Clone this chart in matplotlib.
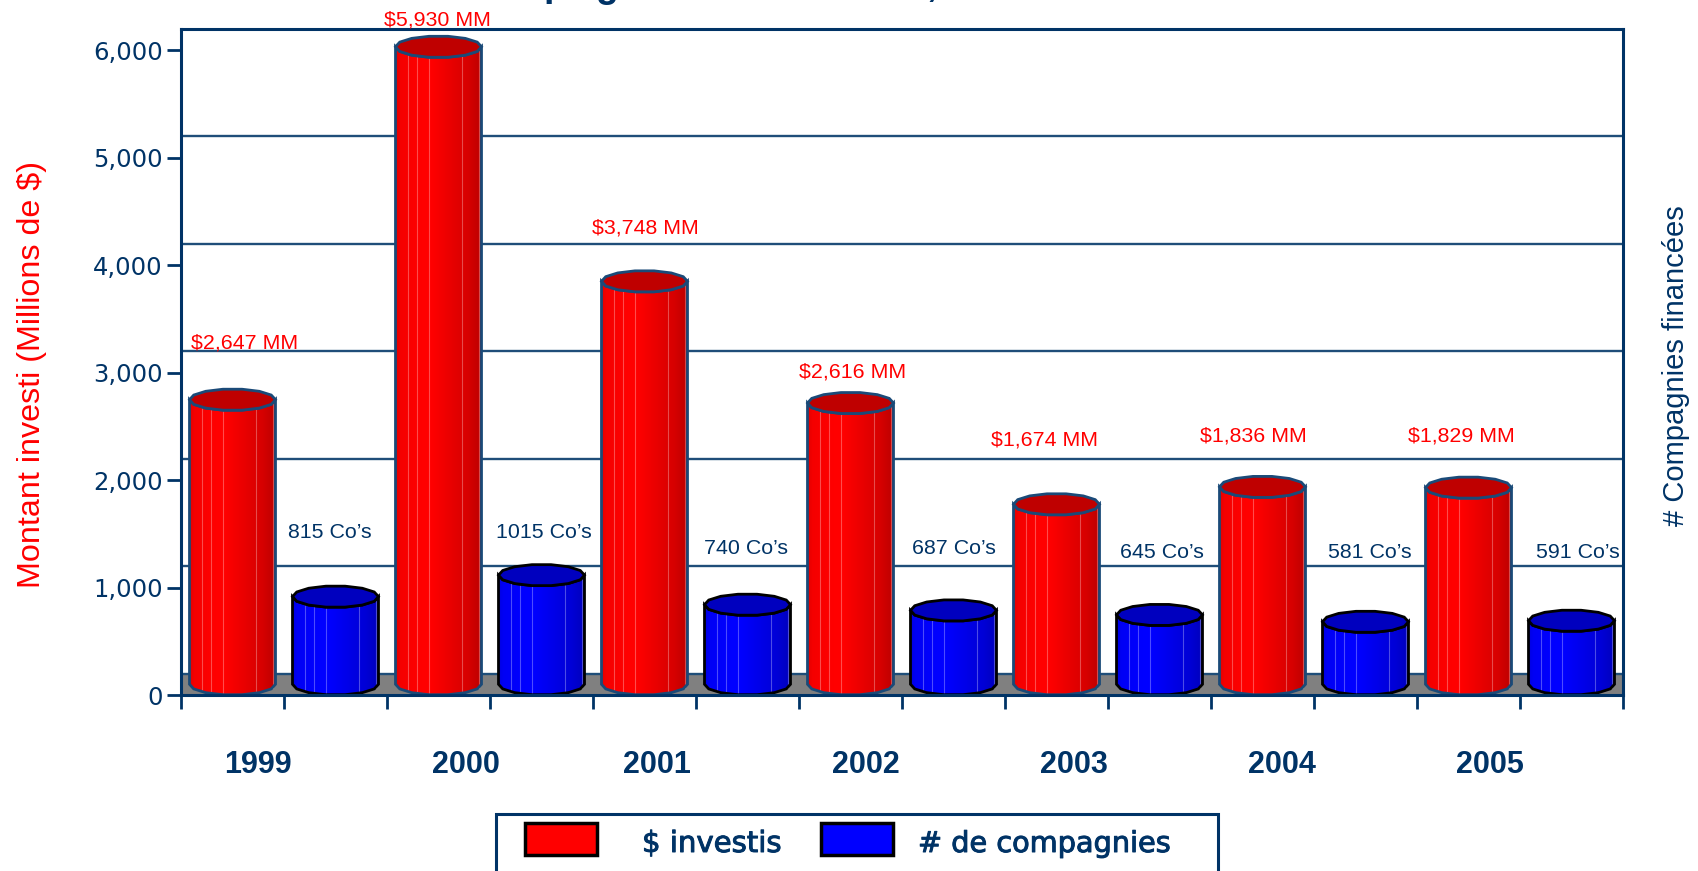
import numpy as np
import matplotlib
matplotlib.use("Agg")
import matplotlib.pyplot as plt
import matplotlib.patheffects as pe
from matplotlib.colors import LinearSegmentedColormap
from matplotlib.patches import Polygon, Rectangle

years = ["1999", "2000", "2001", "2002", "2003", "2004", "2005"]
invested = [2647, 5930, 3748, 2616, 1674, 1836, 1829]
companies = [815, 1015, 740, 687, 645, 581, 591]
invested_labels = ["$2,647 MM", "$5,930 MM", "$3,748 MM", "$2,616 MM", "$1,674 MM", "$1,836 MM", "$1,829 MM"]
company_labels = ["815 Co’s", "1015 Co’s", "740 Co’s", "687 Co’s", "645 Co’s", "581 Co’s", "591 Co’s"]
y_ticks = [0, 1000, 2000, 3000, 4000, 5000, 6000]

# hand placed label centres, in pixels of the full size picture
invested_label_xy = [(245, 343), (437, 20), (645, 228), (853, 372), (1045, 440), (1253, 436), (1461, 436)]
company_label_xy = [(330, 532), (544, 532), (746, 548), (954, 548), (1162, 553), (1370, 553), (1578, 552)]
year_label_x = [258, 466, 657, 866, 1074, 1282, 1490]

NAVY = "#003366"
W, H = 1699, 871
FONT = "Liberation Sans"

fig = plt.figure(figsize=(W / 100, H / 100), dpi=100)
ax = fig.add_axes([181 / W, 1 - 695 / H, 1442 / W, 666.5 / H])


def px(x, y):
    return x / W, 1 - y / H


def ellipse(cx, cy, w, start, stop, n):
    t = np.linspace(start, stop, n)
    return np.column_stack([cx + w / 2 * np.cos(t), cy + 100 * np.sin(t)])


def cylinder(cx, value, base, edge, lw=2.0):
    w = 0.835
    front_low = ellipse(cx, 100, w, np.pi, 2 * np.pi, 8)
    front_top = ellipse(cx, value + 100, w, 2 * np.pi, np.pi, 8)
    body = Polygon(np.vstack([front_low, front_top]), closed=True, fc="none", ec=edge, lw=lw, zorder=4)
    ax.add_patch(body)
    cmap = LinearSegmentedColormap.from_list("c", [
        (0.0, tuple(c * 0.88 for c in base)), (0.06, tuple(c * 0.96 for c in base)),
        (0.3, base), (0.42, base), (0.65, tuple(c * 0.91 for c in base)),
        (0.85, tuple(c * 0.84 for c in base)), (1.0, tuple(c * 0.74 for c in base))])
    img = ax.imshow(np.linspace(0, 1, 200).reshape(1, -1), cmap=cmap, aspect="auto",
                    extent=(cx - w / 2, cx + w / 2, 0, value + 200), zorder=3)
    img.set_clip_path(Polygon(np.vstack([front_low, front_top]), closed=True, transform=ax.transData))
    # thin light facet lines
    for f in [0.15, 0.25, 0.39, 0.77, 0.97]:
        x = cx + w * (f - 0.5)
        dy = 100 * np.sqrt(1 - ((x - cx) / (w / 2)) ** 2)
        ax.plot([x, x], [100 - dy, value + 100 - dy], color="white", alpha=0.3, lw=0.8, zorder=3.5)
    top = Polygon(ellipse(cx, value + 100, w, 0, 2 * np.pi, 15), closed=True,
                  fc=tuple(c * 0.75 for c in base), ec=edge, lw=lw, zorder=5)
    ax.add_patch(top)


# back wall lines and grey floor
ax.axhspan(0, 200, color="#808080", zorder=0)
ax.hlines(np.arange(200, 6000, 1000), 0, 14, color="#1f4e79", lw=1.7, zorder=1)

for i in range(len(years)):
    cylinder(2 * i + 0.5, invested[i], (1.0, 0.0, 0.0), "#1a4a78")
    cylinder(2 * i + 1.5, companies[i], (0.0, 0.0, 1.0), "black")

ax.set_xlim(0, 14)
ax.set_ylim(0, 6200)
ax.set_xticks(range(15))
ax.set_xticklabels([])
ax.set_yticks(y_ticks)
ax.set_yticklabels([f"{v:,}" for v in y_ticks], family="DejaVu Sans", fontsize=17.5, color=NAVY)
ax.tick_params(axis="both", color=NAVY, width=2, length=10, direction="out")
ax.tick_params(axis="y", pad=3)
for s in ax.spines.values():
    s.set_color(NAVY)
    s.set_linewidth(2.2)
    s.set_zorder(6)

for i in range(len(years)):
    x, y = px(*invested_label_xy[i])
    fig.text(x, y, invested_labels[i], color="red", fontsize=15.4, family=FONT, ha="center", va="center", zorder=10)
    x, y = px(*company_label_xy[i])
    fig.text(x, y, company_labels[i], color=NAVY, fontsize=15.4, family=FONT, ha="center", va="center", zorder=10)
    x, y = px(year_label_x[i], 765)
    fig.text(x, y, years[i], color=NAVY, fontsize=22, family=FONT, weight="bold", ha="center", va="center")

x, y = px(32, 375)
fig.text(x, y, "Montant investi (Millions de $)", color="red", fontsize=23.2, family=FONT, rotation=90, ha="center", va="center")
x, y = px(1676, 366)
fig.text(x, y, "# Compagnies financées", color=NAVY, fontsize=21, family=FONT, rotation=90, ha="center", va="center")

# title is cut by the top edge, only these descenders show
for ch, tx, ty in [("p", 555, -4), ("g", 607, -3), (",", 932, -4)]:
    x, y = px(tx, ty)
    fig.text(x, y, ch, color=NAVY, fontsize=27, family=FONT, weight="bold", ha="center", va="baseline")

# legend, its lower edge is outside the picture
def fig_rect(x0, y0, x1, y1, **kw):
    fig.add_artist(Rectangle(px(x0, y1), (x1 - x0) / W, (y1 - y0) / H, transform=fig.transFigure, **kw))


fig_rect(496, 814, 1218, 890, fc="white", ec=NAVY, lw=2.2)
fig_rect(525, 823, 597, 855, fc="red", ec="black", lw=2.5)
fig_rect(821, 823, 893, 855, fc="blue", ec="black", lw=2.5)
stroke = [pe.withStroke(linewidth=0.7, foreground=NAVY)]
x, y = px(642, 844)
fig.text(x, y, "$ investis", color=NAVY, fontsize=21, family="DejaVu Sans", ha="left", va="center", path_effects=stroke)
x, y = px(918, 844)
fig.text(x, y, "# de compagnies", color=NAVY, fontsize=20.7, family="DejaVu Sans", ha="left", va="center", path_effects=stroke)

fig.savefig("out.png", dpi=100)
